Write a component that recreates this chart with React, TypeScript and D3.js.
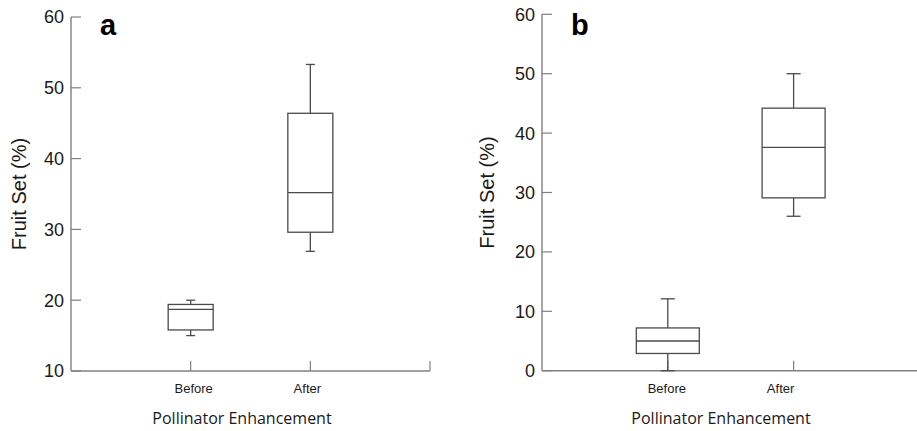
import * as d3 from "d3";

const categories = ["Before", "After"];

// panel a
const aLow = [15.0, 26.9];
const aQ1 = [15.8, 29.6];
const aMedian = [18.7, 35.2];
const aQ3 = [19.4, 46.4];
const aHigh = [20.0, 53.3];
const aTicks = [10, 20, 30, 40, 50, 60];

// panel b
const bLow = [0, 26.0];
const bQ1 = [2.9, 29.1];
const bMedian = [5.0, 37.6];
const bQ3 = [7.2, 44.2];
const bHigh = [12.1, 50.0];
const bTicks = [0, 10, 20, 30, 40, 50, 60];

const panels = [
  {
    letter: "a",
    low: aLow, q1: aQ1, median: aMedian, q3: aQ3, high: aHigh,
    ticks: aTicks,
    x0: 71, x1: 430, yTop: 17, yBottom: 371,
    boxW: 45, capW: 9,
    labelShift: [3, -3],
    letterX: 100, titleX: 242, yLabelX: 26,
  },
  {
    letter: "b",
    low: bLow, q1: bQ1, median: bMedian, q3: bQ3, high: bHigh,
    ticks: bTicks,
    x0: 542, x1: 919.4, yTop: 14.3, yBottom: 370.7,
    boxW: 63, capW: 14,
    labelShift: [-1, -13],
    letterX: 571, titleX: 721, yLabelX: 494,
  },
];

const axisColor = "#808080";
const boxColor = "#4a4a4a";

function Panel({ p }: { p: any }) {
  const y = d3.scaleLinear()
    .domain([p.ticks[0], p.ticks[p.ticks.length - 1]])
    .range([p.yBottom, p.yTop]);
  const x = d3.scaleLinear().domain([0, 3]).range([p.x0, p.x1]);

  return (
    <g>
      {/* y axis */}
      <line x1={p.x0} x2={p.x0} y1={p.yTop} y2={p.yBottom} stroke={axisColor} strokeWidth={1.4} />
      {p.ticks.map((t: number) => (
        <g key={t}>
          <line x1={p.x0} x2={p.x0 + 10} y1={y(t)} y2={y(t)} stroke={axisColor} strokeWidth={1.2} />
          <text x={p.x0 - 7} y={y(t)} dy="0.36em" textAnchor="end"
            fontFamily="Liberation Sans, Arial, sans-serif" fontSize={18} fill="#1a1a1a">{t}</text>
        </g>
      ))}
      {/* x axis */}
      <line x1={p.x0} x2={p.x1} y1={p.yBottom} y2={p.yBottom} stroke={axisColor} strokeWidth={1.4} />
      {[1, 2, 3].map((v) => (
        <line key={v} x1={x(v)} x2={x(v)} y1={p.yBottom} y2={p.yBottom - 10} stroke={axisColor} strokeWidth={1.2} />
      ))}
      {categories.map((c, i) => (
        <text key={c} x={x(i + 1) + p.labelShift[i]} y={393} textAnchor="middle"
          fontFamily="Liberation Sans, Arial, sans-serif" fontSize={13} fill="#1a1a1a">{c}</text>
      ))}
      {/* boxes */}
      {categories.map((c, i) => {
        const cx = x(i + 1);
        const hw = p.boxW / 2;
        const cw = p.capW / 2;
        return (
          <g key={c} stroke={boxColor} strokeWidth={1.3} fill="none">
            <line x1={cx} x2={cx} y1={y(p.high[i])} y2={y(p.q3[i])} />
            <line x1={cx} x2={cx} y1={y(p.q1[i])} y2={y(p.low[i])} />
            <line x1={cx - cw} x2={cx + cw} y1={y(p.high[i])} y2={y(p.high[i])} />
            <line x1={cx - cw} x2={cx + cw} y1={y(p.low[i])} y2={y(p.low[i])} />
            <rect x={cx - hw} width={p.boxW} y={y(p.q3[i])} height={y(p.q1[i]) - y(p.q3[i])} fill="#fff" />
            <line x1={cx - hw} x2={cx + hw} y1={y(p.median[i])} y2={y(p.median[i])} />
          </g>
        );
      })}
      <text x={p.letterX} y={35} fontFamily="Liberation Sans, Arial, sans-serif" fontWeight="bold"
        fontSize={29} fill="#000">{p.letter}</text>
      <text transform={`translate(${p.yLabelX},${(p.yTop + p.yBottom) / 2}) rotate(-90)`} textAnchor="middle"
        fontFamily="Liberation Sans, Arial, sans-serif" fontSize={20} fill="#1a1a1a">Fruit Set (%)</text>
      <text x={p.titleX} y={424} textAnchor="middle" fontFamily="Open Sans, Noto Sans, sans-serif"
        fontSize={16} fill="#1a1a1a">Pollinator Enhancement</text>
    </g>
  );
}

export default function App() {
  return (
    <svg width={917} height={431} style={{ position: "absolute", left: 0, top: 0, background: "#fff" }}>
      <rect width={917} height={431} fill="#fff" />
      {panels.map((p) => (
        <Panel key={p.letter} p={p} />
      ))}
    </svg>
  );
}
